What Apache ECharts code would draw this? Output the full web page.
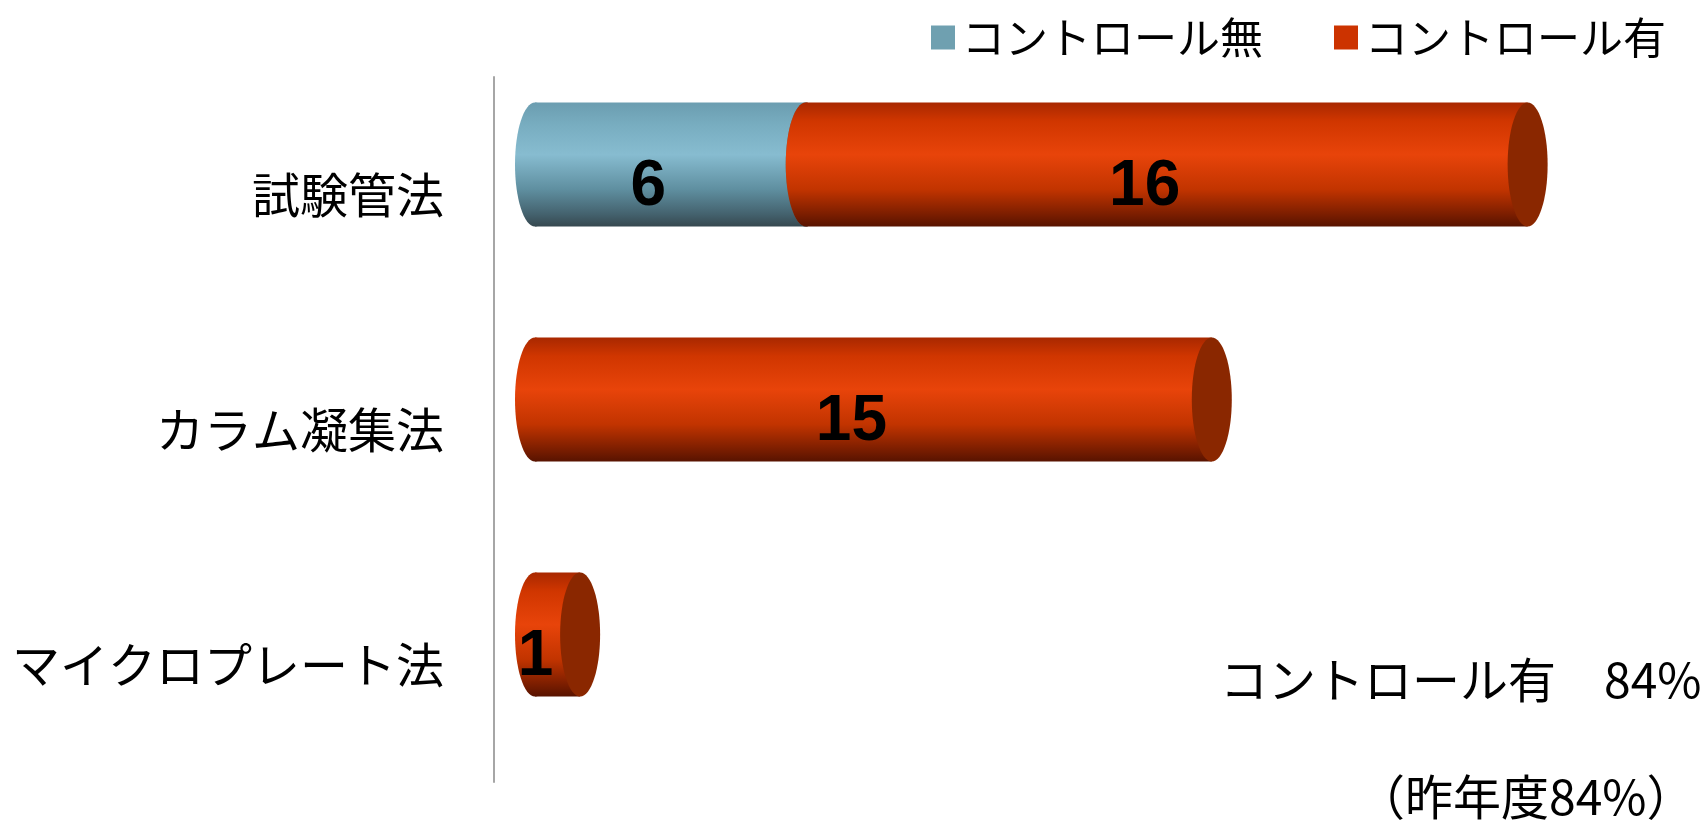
<!DOCTYPE html>
<html>
<head>
<meta charset="utf-8">
<script src="https://cdn.jsdelivr.net/npm/echarts@6/dist/echarts.min.js"></script>
<style>
  html, body { margin: 0; padding: 0; background: #ffffff; }
  #chart { width: 1708px; height: 821px; }
</style>
</head>
<body>
<div id="chart"></div>
<script>
// Methods (top to bottom)
const categories = ['試験管法', 'カラム凝集法', 'マイクロプレート法'];
// Counts per method
const noControl = [6, 0, 0];     // コントロール無
const withControl = [16, 15, 1]; // コントロール有
const seriesNames = ['コントロール無', 'コントロール有'];
const noteLines = ['コントロール有　84%', '（昨年度84%）'];

// Stacked segments: [categoryIndex, start, end, value]
const noData = noControl.map((v, i) => [i, 0, v, v]);
const withData = withControl.map((v, i) => [i, noControl[i], noControl[i] + v, v]);

const FONT = 'Noto Sans CJK JP';

function grad(stops) {
  return new echarts.graphic.LinearGradient(0, 0, 0, 1,
    stops.map(s => ({ offset: s[0], color: s[1] })));
}

const blueBody = () => grad([[0, '#6b9db0'], [0.18, '#78adc0'], [0.42, '#87bcd0'], [0.7, '#5f8fa0'], [0.9, '#44626e'], [1, '#36484f']]);
const redBody = () => grad([[0, '#a82800'], [0.15, '#d03600'], [0.42, '#e8440a'], [0.7, '#c23400'], [0.9, '#7c1e00'], [1, '#581300']]);

// Cylinder drawn in the 3D-offset plane
const DX = 41, DY = -30, RX = 20;

function makeRender(bodyFn, faceColor) {
  return function (params, api) {
    const val = api.value(3);
    if (!val) return null;
    const i = api.value(0);
    const p0 = api.coord([api.value(1), i]);
    const p1 = api.coord([api.value(2), i]);
    const band = api.size([0, 1])[1];
    const h = band * 0.528;
    const cy = p0[1] + DY;
    const x0 = p0[0] + DX;
    const x1 = p1[0] + DX;
    return {
      type: 'group',
      children: [
        { type: 'ellipse', shape: { cx: x0, cy: cy, rx: RX, ry: h / 2 }, style: { fill: bodyFn() } },
        { type: 'rect', shape: { x: x0, y: cy - h / 2, width: x1 - x0, height: h }, style: { fill: bodyFn() } },
        { type: 'ellipse', shape: { cx: x1, cy: cy, rx: RX, ry: h / 2 }, style: { fill: faceColor } },
        {
          type: 'text',
          style: {
            x: (x0 + x1) / 2 - 22, y: cy + 23,
            text: String(val),
            fill: '#000000',
            font: 'bold 64px "Liberation Sans", Arial, sans-serif',
            align: 'center', verticalAlign: 'middle'
          }
        }
      ]
    };
  };
}

const chart = echarts.init(document.getElementById('chart'));
chart.setOption({
  animation: false,
  backgroundColor: '#ffffff',
  textStyle: { fontFamily: FONT },
  legend: {
    data: seriesNames,
    left: 926,
    top: 11,
    icon: 'rect',
    itemWidth: 24,
    itemHeight: 24,
    itemGap: 71,
    textStyle: { fontSize: 43, color: '#000000', fontFamily: FONT, padding: [0, 0, 0, 2] }
  },
  grid: { left: 494, right: 86, top: 77, bottom: 39 },
  xAxis: { type: 'value', min: 0, max: 25, show: false },
  yAxis: {
    type: 'category',
    data: categories,
    inverse: true,
    axisLine: { show: true, lineStyle: { color: '#a6a6a6', width: 2 } },
    axisTick: { show: false },
    axisLabel: { margin: 50, fontSize: 48, color: '#000000', fontFamily: FONT }
  },
  series: [
    {
      name: seriesNames[0], type: 'custom', color: '#6fa0b0',
      renderItem: makeRender(blueBody, '#4e7f8f'),
      encode: { x: [1, 2], y: 0 },
      data: noData
    },
    {
      name: seriesNames[1], type: 'custom', color: '#cc3300',
      renderItem: makeRender(redBody, '#8a2700'),
      encode: { x: [1, 2], y: 0 },
      data: withData
    }
  ],
  graphic: [
    { type: 'text', left: 1220, top: 656, style: { text: noteLines[0], font: '48px "' + FONT + '"', fill: '#000000' } },
    { type: 'text', left: 1357, top: 773, style: { text: noteLines[1], font: '48px "' + FONT + '"', fill: '#000000' } }
  ]
});
</script>
</body>
</html>
